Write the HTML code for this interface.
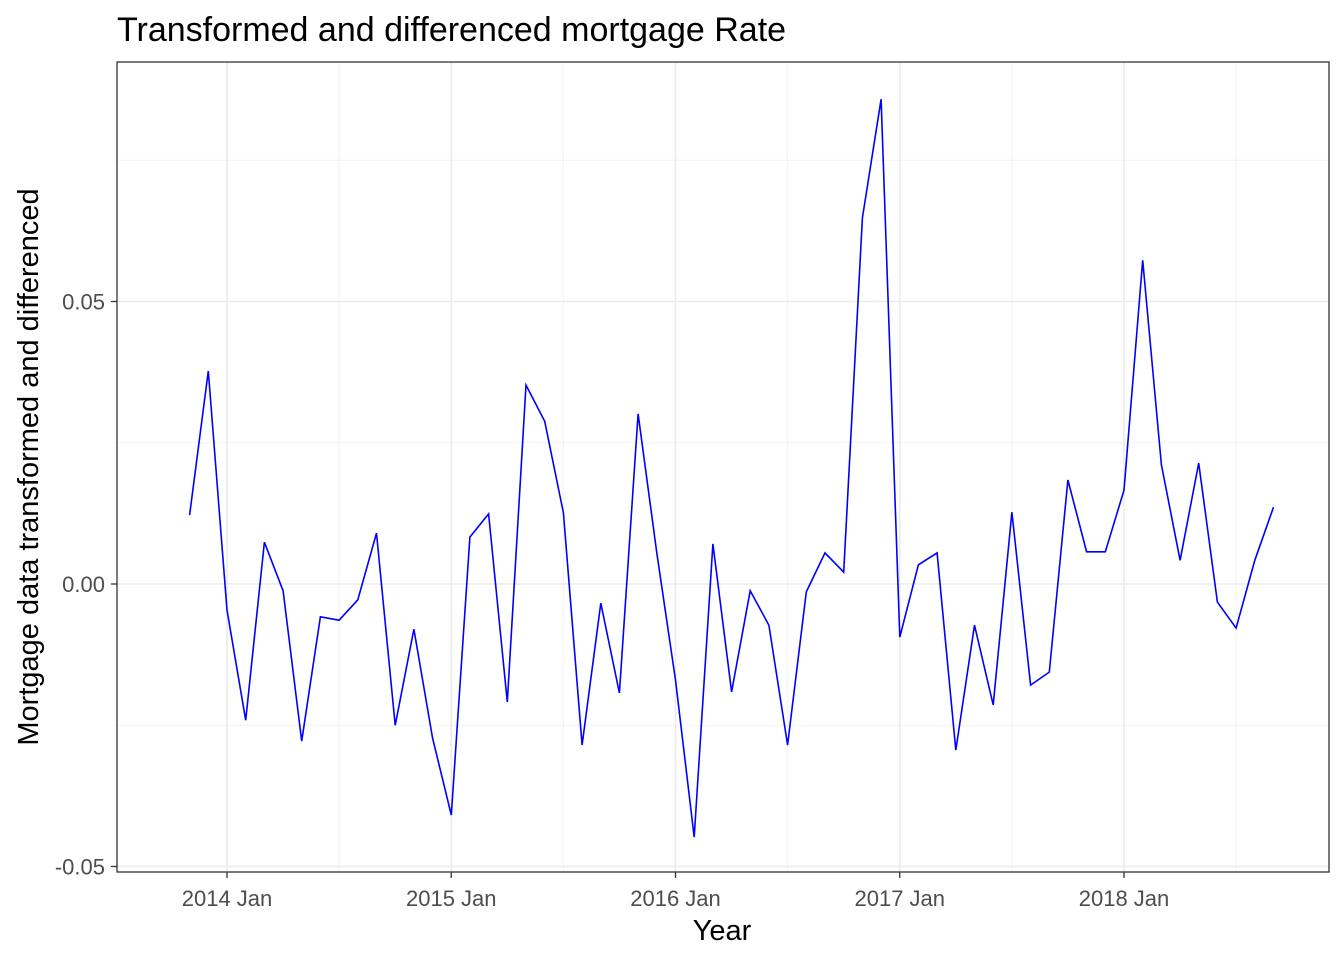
<!DOCTYPE html>
<html><head><meta charset="utf-8"><style>
body{margin:0;background:#fff;font-family:"Liberation Sans",sans-serif}
</style></head><body>
<svg id="chart" width="1344" height="960" xmlns="http://www.w3.org/2000/svg" font-family="Liberation Sans, sans-serif">
<text x="117" y="41" font-size="34" fill="#000">Transformed and differenced mortgage Rate</text>
<rect x="117" y="62" width="1212" height="810" fill="#fff"/>
<g id="grid"></g>
<polyline id="series" fill="none" stroke="#0000ff" stroke-width="1.6"/>
<rect x="117" y="62" width="1212" height="810" fill="none" stroke="#333" stroke-width="1.3"/>
<g id="axes"></g>
<text x="722" y="940" font-size="29" text-anchor="middle" fill="#000">Year</text>
<text transform="translate(38,467) rotate(-90)" font-size="29" text-anchor="middle" fill="#000">Mortgage data transformed and differenced</text>
</svg>
<script>
const startYear = 2013, startMonth = 10; // Nov 2013 (0-based month)
const values = [0.0122,0.0377,-0.0046,-0.0241,0.0074,-0.0012,-0.0278,-0.0058,-0.0064,-0.0028,0.0090,-0.0250,-0.0080,-0.0273,-0.0409,0.0083,0.0124,-0.0209,0.0352,0.0288,0.0126,-0.0285,-0.0034,-0.0193,0.0301,0.0055,-0.0170,-0.0448,0.0071,-0.0191,-0.0012,-0.0073,-0.0285,-0.0014,0.0055,0.0021,0.0648,0.0858,-0.0094,0.0034,0.0055,-0.0294,-0.0073,-0.0214,0.0127,-0.0179,-0.0156,0.0184,0.0057,0.0057,0.0166,0.0573,0.0211,0.0042,0.0214,-0.0032,-0.0078,0.0042,0.0136];
const yTicks = [-0.05, 0.00, 0.05];
const yTickLabels = ["-0.05","0.00","0.05"];
const yMinor = [-0.025, 0.025, 0.075];
const xTickYears = [2014, 2015, 2016, 2017, 2018];
const xTickLabels = ["2014 Jan","2015 Jan","2016 Jan","2017 Jan","2018 Jan"];

const NS="http://www.w3.org/2000/svg";
function X(t){ return 227 + (t - 2014) * 224.25; }
function Y(v){ return 584 - v * 5650; }
const grid=document.getElementById('grid'), axes=document.getElementById('axes');
function mk(tag,attrs,parent){const e=document.createElementNS(NS,tag);for(const k in attrs)e.setAttribute(k,attrs[k]);parent.appendChild(e);return e;}
yMinor.forEach(v=>{
  const l=mk('line',{x1:117,x2:1329,y1:Y(v),y2:Y(v),stroke:'#f2f2f2','stroke-width':1},grid);
  
  
});
xTickYears.forEach(yr=>{
  const l=mk('line',{x1:X(yr+0.5),x2:X(yr+0.5),y1:62,y2:872,stroke:'#f2f2f2','stroke-width':1},grid);
  
  
});
yTicks.forEach((v,i)=>{
  const l=mk('line',{x1:117,x2:1329,y1:Y(v),y2:Y(v),stroke:'#ebebeb','stroke-width':1.6},grid);
  
  
  const t=mk('line',{x1:111,x2:117,y1:Y(v),y2:Y(v),stroke:'#333','stroke-width':1.3},axes);
  
  
  const tx=mk('text',{x:105,y:Y(v)+8,'font-size':22,'text-anchor':'end',fill:'#4d4d4d'},axes);
  tx.textContent=yTickLabels[i];
  
  
});
xTickYears.forEach((yr,i)=>{
  const l=mk('line',{x1:X(yr),x2:X(yr),y1:62,y2:872,stroke:'#ebebeb','stroke-width':1.6},grid);
  
  
  const t=mk('line',{x1:X(yr),x2:X(yr),y1:872,y2:878,stroke:'#333','stroke-width':1.3},axes);
  
  
  const tx=mk('text',{x:X(yr),y:906,'font-size':22,'text-anchor':'middle',fill:'#4d4d4d'},axes);
  tx.textContent=xTickLabels[i];
  
  
});
const pts=values.map((v,i)=>{const t=startYear+(startMonth+i)/12;return X(t).toFixed(1)+','+Y(v).toFixed(1);});
document.getElementById('series').setAttribute('points',pts.join(' '));
</script>
</body></html>
